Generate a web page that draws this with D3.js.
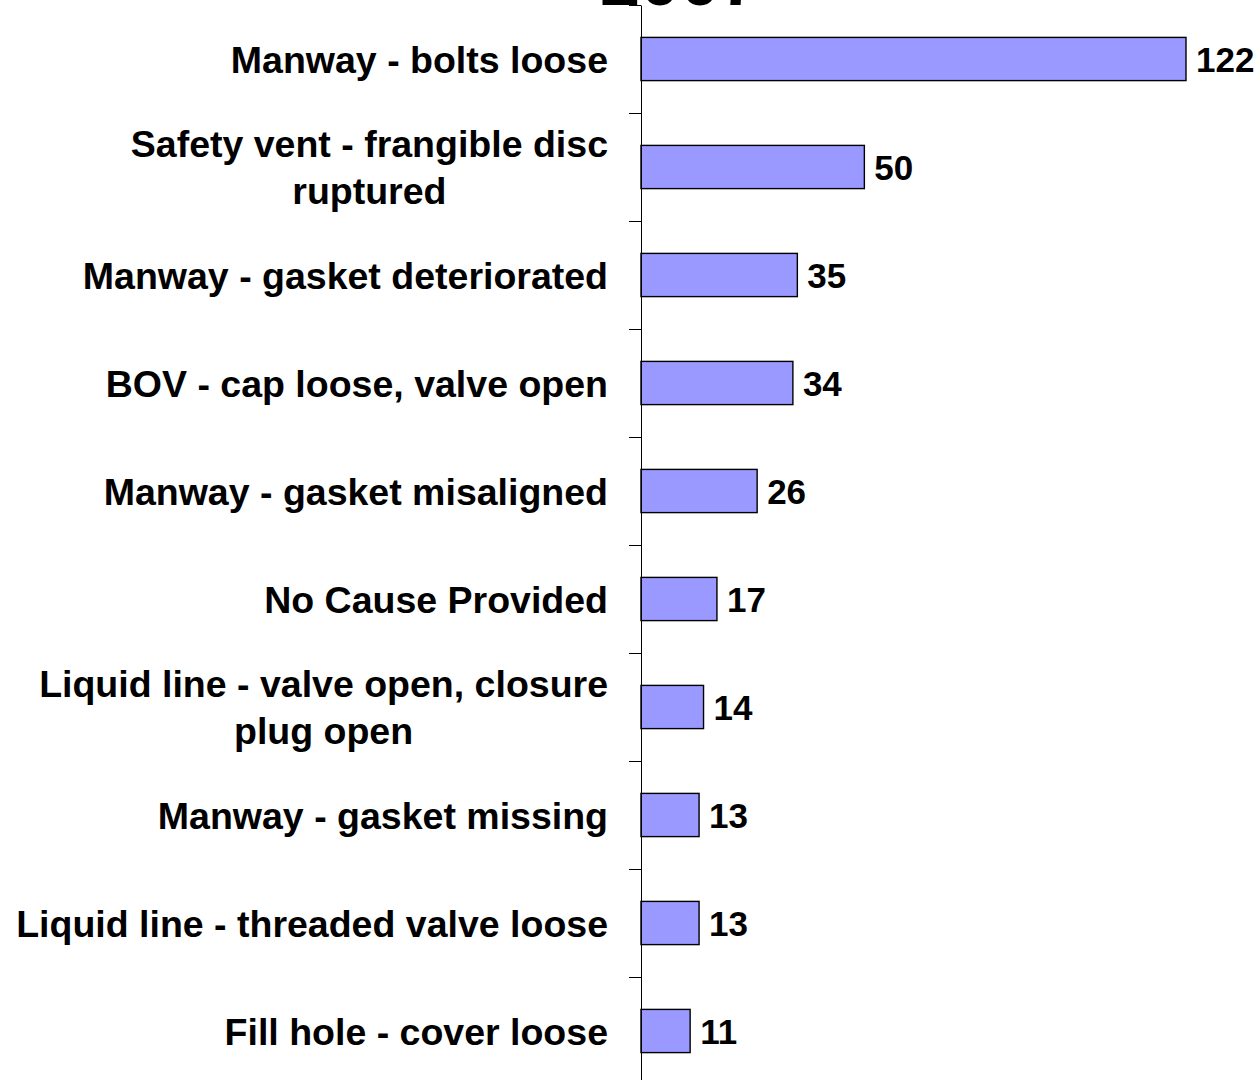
<!DOCTYPE html>
<meta charset="utf-8">
<html lang="en">
<head>
<style>
  body { margin: 0; background: #ffffff; }
  svg { display: block; font-family: Arial, "Liberation Sans", sans-serif; }
  .cat { font-size: 37.5px; font-weight: bold; fill: #000; }
  .val { font-size: 35px; font-weight: bold; fill: #000; }
  .bar { fill: #9999ff; stroke: #000; stroke-width: 1.4; }
  .axis path, .axis line { stroke: #000; stroke-width: 1; }
</style>
</head>
<body>
<div id="chart"></div>
<script src="https://d3js.org/d3.v7.min.js"></script>
<script type="text/javascript">
    // categories (each entry = label lines) and counts, top to bottom
    var categories = [
      ["Manway - bolts loose"],
      ["Safety vent - frangible disc", "ruptured"],
      ["Manway - gasket deteriorated"],
      ["BOV - cap loose, valve open"],
      ["Manway - gasket misaligned"],
      ["No Cause Provided"],
      ["Liquid line - valve open, closure", "plug open"],
      ["Manway - gasket missing"],
      ["Liquid line - threaded valve loose"],
      ["Fill hole - cover loose"]
    ];
    var counts = [122, 50, 35, 34, 26, 17, 14, 13, 13, 11];
    var title = "2007";

    var width = 1260, height = 1080;

    var svg = d3.select("#chart")
      .append("svg")
        .attr("width", width)
        .attr("height", height);

    var keys = categories.map(function (c) { return c.join(" "); });

    var y = d3.scaleBand()
      .domain(keys)
      .range([5, 1085])
      .paddingInner(0.6)
      .paddingOuter(0.3);

    var x = d3.scaleLinear()
      .domain([0, 122])
      .range([641, 1186]);

    // title (cut off at the top like the original)
    svg.append("text")
      .attr("x", 680)
      .attr("y", 5)
      .attr("text-anchor", "middle")
      .style("font-size", "72px")
      .style("font-weight", "bold")
      .text(title);

    // bars
    svg.append("g")
      .selectAll("rect")
      .data(counts)
      .enter()
      .append("rect")
        .attr("class", "bar")
        .attr("x", x(0))
        .attr("y", function (d, i) { return y(keys[i]); })
        .attr("width", function (d) { return x(d) - x(0); })
        .attr("height", y.bandwidth());

    // value labels
    svg.append("g")
      .selectAll("text")
      .data(counts)
      .enter()
      .append("text")
        .attr("class", "val")
        .attr("x", function (d) { return x(d) + 10; })
        .attr("y", function (d, i) { return y(keys[i]) + y.bandwidth() / 2; })
        .attr("dy", "0.36em")
        .text(function (d) { return d; });

    // category axis: ticks between categories
    var tickScale = d3.scaleLinear()
      .domain([0, categories.length])
      .range([5, 1085]);
    svg.append("g")
      .attr("class", "axis")
      .attr("transform", "translate(" + x(0) + ",0)")
      .call(d3.axisLeft(tickScale)
        .tickValues(d3.range(categories.length + 1))
        .tickFormat("")
        .tickSize(12)
        .tickSizeOuter(0));

    // category labels, multi-line ones centred within their block
    var lineH = 47;
    categories.forEach(function (lines, i) {
      var cy = y(keys[i]) + y.bandwidth() / 2;
      var g = svg.append("g");
      var t = g.append("text")
        .attr("class", "cat")
        .attr("text-anchor", lines.length > 1 ? "middle" : "end");
      if (lines.length === 1) {
        t.attr("x", 608).attr("y", cy).attr("dy", "0.36em").text(lines[0]);
      } else {
        t.attr("y", cy - (lines.length - 1) * lineH / 2).attr("dy", "0.36em").text(lines[0]);
        var w = t.node().getComputedTextLength();
        var cx = 608 - w / 2;
        t.attr("x", cx);
        for (var k = 1; k < lines.length; k++) {
          g.append("text")
            .attr("class", "cat")
            .attr("text-anchor", "middle")
            .attr("x", cx)
            .attr("y", cy - (lines.length - 1) * lineH / 2 + k * lineH)
            .attr("dy", "0.36em")
            .text(lines[k]);
        }
      }
    });
</script>
</body>
</html>
